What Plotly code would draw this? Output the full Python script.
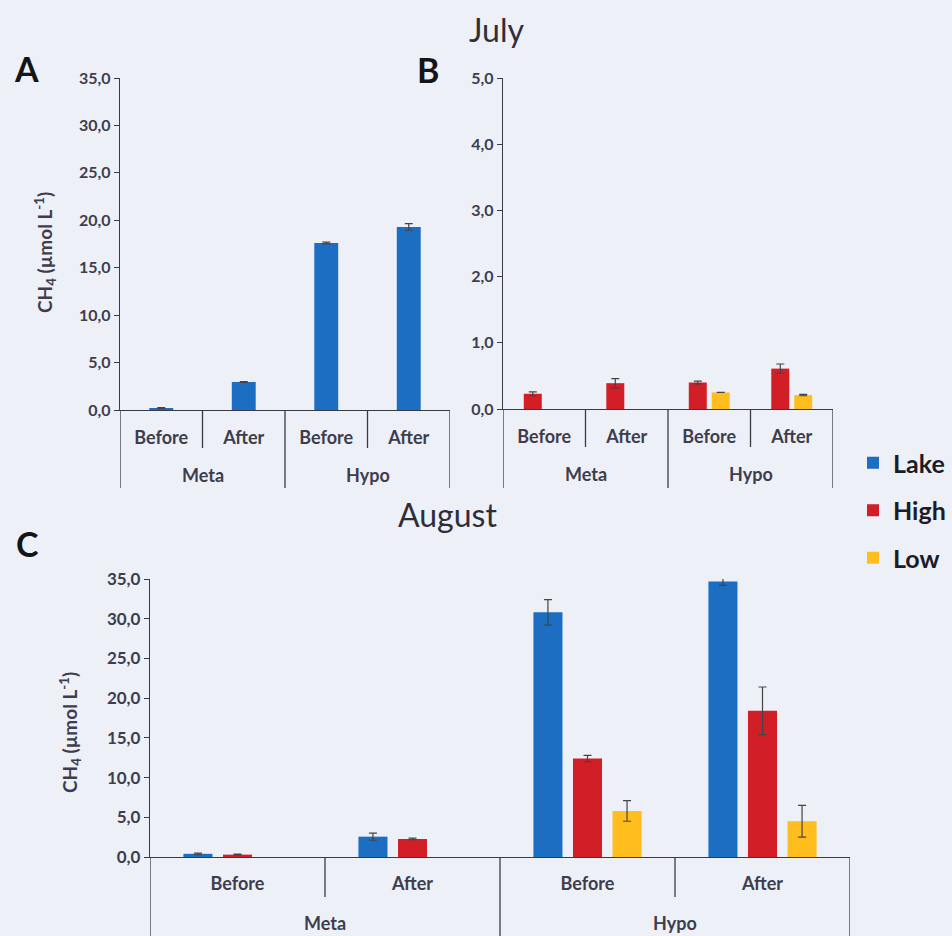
import plotly.graph_objects as go

W, H = 952, 936

# ---------------- data ----------------
layers = ["Meta", "Meta", "Hypo", "Hypo"]
phases = ["Before", "After", "Before", "After"]
cats = [f"{l} {p}" for l, p in zip(layers, phases)]
outer_groups = ["Meta", "Hypo"]

series_names = ["Lake", "High", "Low"]

july_lake = [0.20, 2.95, 17.6, 19.3]
july_lake_err = [0.05, 0.05, 0.10, 0.35]
july_high = [0.23, 0.39, 0.40, 0.61]
july_high_err = [0.03, 0.07, 0.02, 0.07]
july_low = [None, None, 0.25, 0.21]
july_low_err = [0, 0, 0.0, 0.01]

aug_lake = [0.40, 2.56, 30.8, 34.7]
aug_lake_err = [0.10, 0.45, 1.6, 0.5]
aug_high = [0.30, 2.27, 12.4, 18.4]
aug_high_err = [0.05, 0.10, 0.4, 3.0]
aug_low = [None, None, 5.8, 4.5]
aug_low_err = [0, 0, 1.3, 2.0]

colors = {"Lake": "#1B6EC2", "High": "#D11E27", "Low": "#FFBE1E"}

FONT = "Lato"
TXT = "#3d3d4d"
AX = "#3a3a44"
BG = "#EDF0F7"


def px_x(p):
    return p / W


def px_y(p):
    return 1 - p / H


fig = go.Figure()


def add_bar(name, y, err, xa, ya, offset, width, showlegend):
    fig.add_trace(go.Bar(
        x=cats, y=y, name=name, xaxis=xa, yaxis=ya,
        marker=dict(color=colors[name], line=dict(width=0)),
        offset=offset, width=width,
        error_y=dict(type="data", array=err, visible=True, color="#444448",
                     thickness=1.2, width=4),
        legendgroup=name, showlegend=showlegend,
    ))


# Panel A (July, lake only)
add_bar("Lake", july_lake, july_lake_err, "x", "y", -0.145, 0.29, False)
# Panel B (July, mesocosms)
add_bar("High", july_high, july_high_err, "x2", "y2", -0.248, 0.218, False)
add_bar("Low", july_low, july_low_err, "x2", "y2", 0.030, 0.218, False)
# Panel C (August)
add_bar("Lake", aug_lake, aug_lake_err, "x3", "y3", -0.309, 0.166, True)
add_bar("High", aug_high, aug_high_err, "x3", "y3", -0.083, 0.166, True)
add_bar("Low", aug_low, aug_low_err, "x3", "y3", 0.143, 0.166, True)

panels = {
    "": dict(xl=120, xr=450, yt=78, y0=410, ymax=35, dtick=5, tf=16, so=11,
             inner_bot=448, outer_bot=488, outer_lab=475),
    "2": dict(xl=503, xr=833, yt=78, y0=409, ymax=5, dtick=1, tf=16, so=11,
              inner_bot=447, outer_bot=488, outer_lab=474),
    "3": dict(xl=150, xr=850, yt=579, y0=857, ymax=35, dtick=5, tf=17, so=10,
              inner_bot=897, outer_bot=936, outer_lab=923),
}

shapes = []
annotations = []
for suf, p in panels.items():
    xa = "xaxis" + suf
    ya = "yaxis" + suf
    fig.update_layout({
        xa: dict(domain=[px_x(p["xl"]), px_x(p["xr"])], anchor="y" + suf,
                 type="category", categoryorder="array", categoryarray=cats,
                 range=[-0.5, len(cats) - 0.5], showline=True, linecolor=AX,
                 linewidth=1.3, ticks="", showgrid=False, zeroline=False,
                 automargin=False,
                 tickvals=cats, ticktext=phases, ticklabelstandoff=p["so"],
                 tickfont=dict(family=FONT, size=18, color=TXT, weight="bold")),
        ya: dict(domain=[px_y(p["y0"]), px_y(p["yt"])], anchor="x" + suf,
                 range=[0, p["ymax"]], dtick=p["dtick"], tickformat=".1f",
                 showline=True, linecolor=AX, linewidth=1.3, ticks="outside",
                 ticklen=5, tickcolor=AX, showgrid=False, zeroline=False,
                 automargin=False,
                 tickfont=dict(family=FONT, size=p["tf"], color=TXT, weight="bold")),
    })
    xref = "x" + suf
    n = len(cats)
    for i in range(n + 1):
        b = i - 0.5
        is_outer = (i == 0 or i == n or layers[i - 1] != layers[i])
        bot = p["outer_bot"] if is_outer else p["inner_bot"]
        shapes.append(dict(type="line", xref=xref, yref="paper", x0=b, x1=b,
                           y0=px_y(p["y0"]), y1=px_y(bot),
                           line=dict(color=AX, width=1.3)))
    for g in outer_groups:
        idx = [i for i, l in enumerate(layers) if l == g]
        annotations.append(dict(x=(idx[0] + idx[-1]) / 2, y=px_y(p["outer_lab"]),
                                xref=xref, yref="paper", text=g, showarrow=False,
                                xanchor="center", yanchor="middle",
                                font=dict(family=FONT, size=18, color=TXT, weight="bold")))

ytitle = "CH<sub>4</sub> (µmol L<sup>-1</sup>)"
for (x, y) in [(45, 253), (70, 733)]:
    annotations.append(dict(x=px_x(x), y=px_y(y), xref="paper", yref="paper",
                            text=ytitle, textangle=-90, showarrow=False,
                            xanchor="center", yanchor="middle",
                            font=dict(family=FONT, size=19, color=TXT, weight="bold")))

for (t, x, y) in [("A", 26, 69), ("B", 428, 70), ("C", 27, 543)]:
    annotations.append(dict(x=px_x(x), y=px_y(y), xref="paper", yref="paper",
                            text=t, showarrow=False, xanchor="center", yanchor="middle",
                            font=dict(family=FONT, size=34, color="#151518", weight="bold")))

for (t, x, y) in [("July", 496, 29), ("August", 447, 514)]:
    annotations.append(dict(x=px_x(x), y=px_y(y), xref="paper", yref="paper",
                            text=t, showarrow=False, xanchor="center", yanchor="middle",
                            font=dict(family=FONT, size=32, color="#2e2e38")))

fig.update_layout(
    width=W, height=H, margin=dict(l=0, r=0, t=0, b=0, autoexpand=False),
    paper_bgcolor=BG, plot_bgcolor=BG,
    barmode="overlay", separators=",.",
    shapes=shapes, annotations=annotations,
    legend=dict(x=px_x(853), y=px_y(440), xanchor="left", yanchor="top",
                tracegroupgap=12, bgcolor="rgba(0,0,0,0)",
                font=dict(family=FONT, size=25, color="#1c1c28", weight="bold")),
)

fig.write_html("out.html")
